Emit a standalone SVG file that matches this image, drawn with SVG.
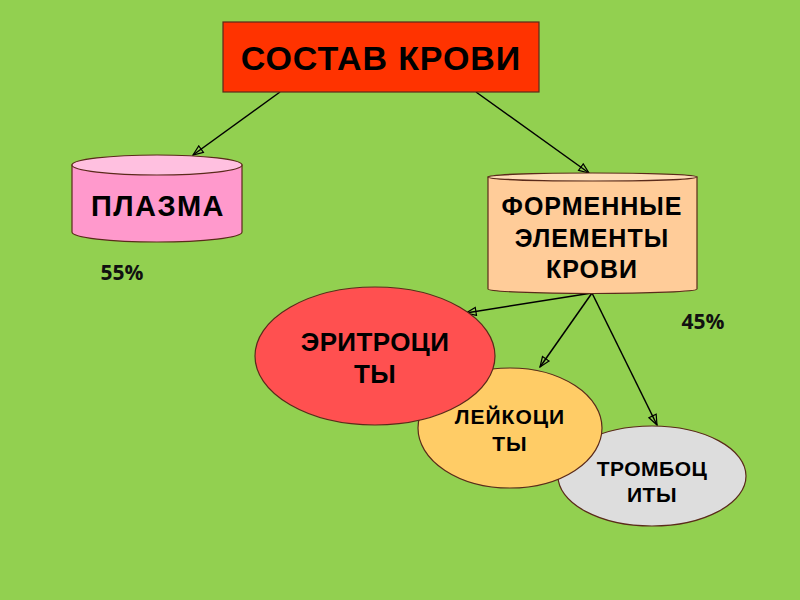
<svg xmlns="http://www.w3.org/2000/svg" width="800" height="600" viewBox="0 0 800 600">
<defs>
<marker id="arr" viewBox="0 0 12 10" refX="11" refY="5" markerWidth="12" markerHeight="10" markerUnits="userSpaceOnUse" orient="auto">
<path d="M1,1 L11,5 L1,9 Z" fill="none" stroke="#000" stroke-width="1.2"/>
</marker>
</defs>
<style>
.lbl{font-family:"Liberation Sans",Arial,sans-serif;font-weight:bold;fill:#000;text-anchor:middle}
.pct{font-family:"Open Sans","Liberation Sans",sans-serif;font-weight:bold;fill:#111;font-size:21px;text-anchor:middle}
.edge{stroke:#000;stroke-width:1.5;fill:none;marker-end:url(#arr)}
.shape{stroke:#5a2a1a;stroke-width:1.2}
</style>
<rect width="800" height="600" fill="#92D050"/>
<g id="connectors">
<line class="edge" x1="280" y1="92" x2="193" y2="155"/>
<line class="edge" x1="476" y1="92" x2="589" y2="173"/>
<line class="edge" x1="592" y1="293" x2="466" y2="313"/>
<line class="edge" x1="592" y1="293" x2="540" y2="367"/>
<line class="edge" x1="592" y1="293" x2="657" y2="425"/>
</g>
<g id="title">
<rect class="shape" x="223" y="22" width="316" height="70" fill="#FF3300"/>
<text class="lbl" x="381" y="70" font-size="34" letter-spacing="0.9">СОСТАВ КРОВИ</text>
</g>
<g id="plasma">
<path class="shape" d="M72,165 L72,232 A85,10 0 0 0 242,232 L242,165 Z" fill="#FF99CC"/>
<ellipse class="shape" cx="157" cy="165" rx="85" ry="10" fill="#FFC0E0"/>
<text class="lbl" x="158" y="216" font-size="29" letter-spacing="1.4">ПЛАЗМА</text>
</g>
<text id="p55" class="pct" x="122" y="280">55%</text>
<g id="formed">
<path class="shape" d="M488,177 L488,289 A104.5,4.5 0 0 0 697,289 L697,177 Z" fill="#FFCC99"/>
<ellipse class="shape" cx="592.5" cy="177" rx="104.5" ry="4" fill="#FFDDB8"/>
<text class="lbl" x="592" y="215" font-size="25" letter-spacing="1">ФОРМЕННЫЕ</text>
<text class="lbl" x="592" y="247" font-size="25" letter-spacing="1">ЭЛЕМЕНТЫ</text>
<text class="lbl" x="592" y="278" font-size="25" letter-spacing="1">КРОВИ</text>
</g>
<text id="p45" class="pct" x="703" y="329">45%</text>
<g id="thrombocytes">
<ellipse class="shape" cx="652" cy="476" rx="94" ry="50" fill="#DDDDDD"/>
<text class="lbl" x="652" y="476" font-size="21" letter-spacing="0.5">ТРОМБОЦ</text>
<text class="lbl" x="652" y="502" font-size="21" letter-spacing="0.5">ИТЫ</text>
</g>
<g id="leukocytes">
<ellipse class="shape" cx="510" cy="428" rx="92" ry="60" fill="#FFCC66"/>
<text class="lbl" x="510" y="424" font-size="21" letter-spacing="1">ЛЕЙКОЦИ</text>
<text class="lbl" x="510" y="451" font-size="21" letter-spacing="1">ТЫ</text>
</g>
<g id="erythrocytes">
<ellipse class="shape" cx="375" cy="356" rx="120" ry="69" fill="#FF5050"/>
<text class="lbl" x="375" y="351" font-size="26" letter-spacing="0.4">ЭРИТРОЦИ</text>
<text class="lbl" x="375" y="383" font-size="26" letter-spacing="0.4">ТЫ</text>
</g>
</svg>
